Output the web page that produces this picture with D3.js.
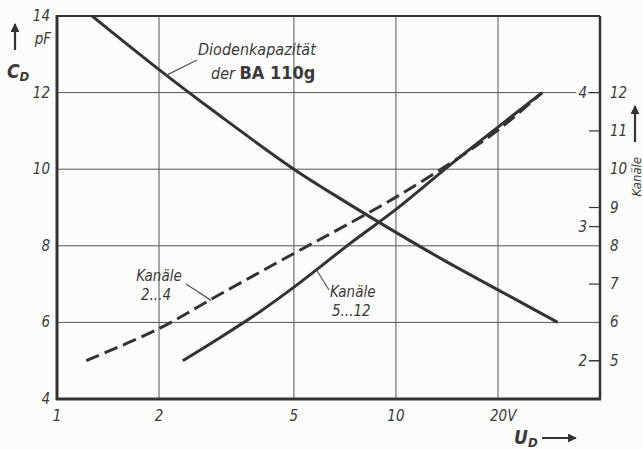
<!DOCTYPE html>
<html>
<head>
<meta charset="utf-8">
<script src="https://cdn.jsdelivr.net/npm/d3@7"></script>
<style>
  body { margin: 0; background: #fcfcfa; }
  svg { display: block; }
  text { font-family: "Liberation Sans Narrow", "DejaVu Sans Condensed", "Roboto Condensed", sans-serif; font-style: italic; fill: #3a3a3a; }
</style>
</head>
<body>
<div id="chart"></div>
<script>
// x ticks (volts), y ticks (pF), right axis channel ticks
var xTicks = [1, 2, 5, 10, 20];
var xGrid = [2, 5, 10, 20];
var yTicks = [4, 6, 8, 10, 12, 14];
var yGrid = [6, 8, 10, 12];
var chHighTicks = [5, 6, 7, 8, 9, 10, 11, 12];
var chLowTicks = [2, 3, 4];

// Diodenkapazität der BA 110g: voltage (V) -> capacitance (pF)
var diodeU = [1.27, 1.5, 2, 3, 5, 7, 10, 14, 20, 30];
var diodeC = [14, 13.48, 12.6, 11.42, 10, 9.18, 8.35, 7.6, 6.85, 6.0];

// Kanäle 5...12 (solid): voltage -> channel
var highU = [2.35, 3, 4, 5, 7.3, 10, 14.4, 20, 27];
var highCh = [5, 5.58, 6.3, 6.92, 8.05, 8.95, 10.1, 11.1, 12];

// Kanäle 2...4 (dashed): voltage -> channel
var lowU = [1.22, 2, 3, 5, 7, 10, 14.4, 20, 27];
var lowCh = [2, 2.24, 2.49, 2.8, 3.0, 3.22, 3.47, 3.72, 4];

var W = 643, H = 449;
var pLeft = 57, pRight = 600, pTop = 16, pBottom = 399;

var svg = d3.select("#chart").append("svg")
    .attr("width", W)
    .attr("height", H);

var x = d3.scaleLog().domain([1, 40]).range([pLeft, pRight]);
var y = d3.scaleLinear().domain([4, 14]).range([pBottom, pTop]);
var chHigh = d3.scaleLinear().domain([5, 12]).range([y(5), y(12)]);
var chLow = d3.scaleLinear().domain([2, 4]).range([y(5), y(12)]);

var ink = "#333";

// grid
svg.append("g").selectAll("line").data(xGrid).enter().append("line")
    .attr("x1", function (d) { return x(d); })
    .attr("x2", function (d) { return x(d); })
    .attr("y1", pTop).attr("y2", pBottom)
    .attr("stroke", "#555").attr("stroke-width", 1);
svg.append("g").selectAll("line").data(yGrid).enter().append("line")
    .attr("x1", pLeft).attr("x2", pRight)
    .attr("y1", function (d) { return y(d); })
    .attr("y2", function (d) { return y(d); })
    .attr("stroke", "#555").attr("stroke-width", 1);

// frame
svg.append("line").attr("x1", pLeft).attr("x2", pRight).attr("y1", pTop).attr("y2", pTop)
    .attr("stroke", ink).attr("stroke-width", 2);
svg.append("line").attr("x1", pRight).attr("x2", pRight).attr("y1", pTop).attr("y2", pBottom)
    .attr("stroke", ink).attr("stroke-width", 2.5);
svg.append("line").attr("x1", pLeft - 1).attr("x2", pRight + 1).attr("y1", pBottom).attr("y2", pBottom)
    .attr("stroke", ink).attr("stroke-width", 3);
svg.append("line").attr("x1", pLeft).attr("x2", pLeft).attr("y1", pTop - 1).attr("y2", pBottom + 1)
    .attr("stroke", ink).attr("stroke-width", 3);

// left tick labels
svg.append("g").selectAll("text").data(yTicks).enter().append("text")
    .attr("x", pLeft - 7)
    .attr("y", function (d) { return y(d) + 5; })
    .attr("text-anchor", "end")
    .style("font-size", "15px")
    .text(function (d) { return d; });
svg.append("text").attr("x", pLeft - 6).attr("y", 44)
    .attr("text-anchor", "end").style("font-size", "15px").text("pF");

// bottom tick labels
svg.append("g").selectAll("text").data(xTicks).enter().append("text")
    .attr("x", function (d) { return d == 20 ? x(d) - 8 : x(d); })
    .attr("y", pBottom + 22)
    .attr("text-anchor", function (d) { return d == 20 ? "start" : "middle"; })
    .style("font-size", "15px")
    .text(function (d) { return d == 20 ? "20V" : d; });

// right axis, channels 5...12 outside the frame
svg.append("g").selectAll("text").data(chHighTicks).enter().append("text")
    .attr("x", pRight + 10)
    .attr("y", function (d) { return chHigh(d) + 5; })
    .style("font-size", "15px")
    .text(function (d) { return d; });
svg.append("g").selectAll("line").data(chHighTicks.filter(function (d) { return d % 2 == 1; }))
    .enter().append("line")
    .attr("x1", pRight - 11).attr("x2", pRight)
    .attr("y1", function (d) { return chHigh(d); })
    .attr("y2", function (d) { return chHigh(d); })
    .attr("stroke", ink).attr("stroke-width", 1.2);

// right axis, channels 2...4 inside the frame
svg.append("g").selectAll("rect").data(chLowTicks).enter().append("rect")
    .attr("x", pRight - 24).attr("y", function (d) { return chLow(d) - 7; })
    .attr("width", 12).attr("height", 14)
    .attr("fill", "#fcfcfa");
svg.append("g").selectAll("line").data(chLowTicks).enter().append("line")
    .attr("x1", pRight - 11).attr("x2", pRight)
    .attr("y1", function (d) { return chLow(d); })
    .attr("y2", function (d) { return chLow(d); })
    .attr("stroke", ink).attr("stroke-width", 1.2);
svg.append("g").selectAll("text").data(chLowTicks).enter().append("text")
    .attr("x", pRight - 13)
    .attr("y", function (d) { return chLow(d) + 5; })
    .attr("text-anchor", "end")
    .style("font-size", "15px")
    .text(function (d) { return d; });

// curves
var lineOf = function (ys) {
    return d3.line()
        .x(function (d) { return x(d[0]); })
        .y(function (d) { return ys(d[1]); })
        .curve(d3.curveCatmullRom.alpha(0.5));
};
svg.append("path")
    .datum(d3.zip(diodeU, diodeC))
    .attr("fill", "none").attr("stroke", ink).attr("stroke-width", 3)
    .attr("d", lineOf(y));
svg.append("path")
    .datum(d3.zip(highU, highCh))
    .attr("fill", "none").attr("stroke", ink).attr("stroke-width", 3)
    .attr("d", lineOf(chHigh));
svg.append("path")
    .datum(d3.zip(lowU, lowCh))
    .attr("fill", "none").attr("stroke", ink).attr("stroke-width", 3)
    .attr("stroke-dasharray", "14,6")
    .attr("d", lineOf(chLow));

// curve labels and leaders
svg.append("line").attr("x1", x(2.1)).attr("y1", y(12.45)).attr("x2", 197).attr("y2", 60)
    .attr("stroke", "#555").attr("stroke-width", 1.2);
svg.append("text").attr("x", 198).attr("y", 55).style("font-size", "16px").text("Diodenkapazität");
var der = svg.append("text").attr("x", 211).attr("y", 79).style("font-size", "16px");
der.append("tspan").text("der ");
der.append("tspan").style("font-style", "normal").style("font-weight", "bold")
    .style("font-size", "18px").text("BA 110g");

svg.append("text").attr("x", 159).attr("y", 281).attr("text-anchor", "middle")
    .style("font-size", "15px").text("Kanäle");
svg.append("text").attr("x", 156).attr("y", 300).attr("text-anchor", "middle")
    .style("font-size", "15px").text("2...4");
svg.append("line").attr("x1", 186).attr("y1", 284).attr("x2", x(2.85)).attr("y2", chLow(2.45))
    .attr("stroke", "#555").attr("stroke-width", 1.2);

svg.append("text").attr("x", 330).attr("y", 297)
    .style("font-size", "15px").text("Kanäle");
svg.append("text").attr("x", 332).attr("y", 316)
    .style("font-size", "15px").text("5...12");
svg.append("line").attr("x1", x(5.85)).attr("y1", chHigh(7.35)).attr("x2", 329).attr("y2", 290)
    .attr("stroke", "#555").attr("stroke-width", 1.2);

// axis titles with arrows
svg.append("defs").append("marker")
    .attr("id", "head").attr("viewBox", "0 0 10 10").attr("refX", 9).attr("refY", 5)
    .attr("markerWidth", 4).attr("markerHeight", 4).attr("orient", "auto")
    .append("path").attr("d", "M0,0 L10,5 L0,10 z").attr("fill", ink);
svg.append("line").attr("x1", 15).attr("y1", 50).attr("x2", 15).attr("y2", 24)
    .attr("stroke", ink).attr("stroke-width", 2.2).attr("marker-end", "url(#head)");
var cd = svg.append("text").attr("x", 7).attr("y", 78).style("font-size", "19px").style("font-weight", "bold");
cd.append("tspan").text("C");
cd.append("tspan").attr("dy", 3).style("font-size", "13px").text("D");

var ud = svg.append("text").attr("x", 514).attr("y", 444).style("font-size", "19px").style("font-weight", "bold");
ud.append("tspan").text("U");
ud.append("tspan").attr("dy", 3).style("font-size", "13px").text("D");
svg.append("line").attr("x1", 542).attr("y1", 438).attr("x2", 576).attr("y2", 438)
    .attr("stroke", ink).attr("stroke-width", 2.2).attr("marker-end", "url(#head)");

svg.append("line").attr("x1", 635).attr("y1", 142).attr("x2", 635).attr("y2", 106)
    .attr("stroke", ink).attr("stroke-width", 2.2).attr("marker-end", "url(#head)");
svg.append("text").attr("transform", "translate(641,157) rotate(-90)")
    .attr("text-anchor", "end").style("font-size", "13px").text("Kanäle");
</script>
</body>
</html>
